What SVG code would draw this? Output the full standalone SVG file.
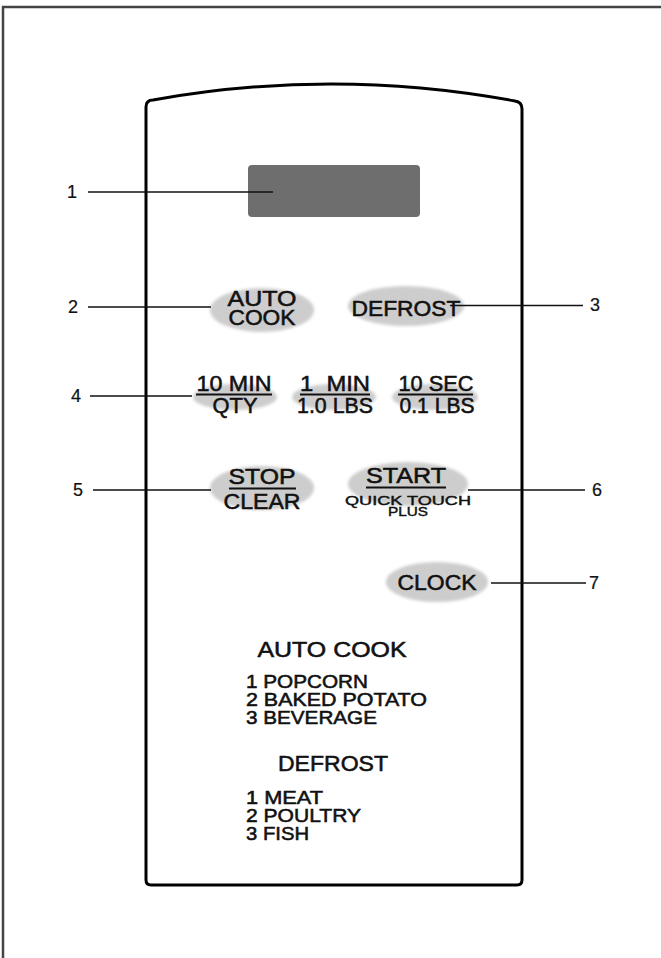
<svg xmlns="http://www.w3.org/2000/svg" width="661" height="958" viewBox="0 0 661 958">
<defs>
<filter id="soft" x="-20%" y="-40%" width="140%" height="180%"><feGaussianBlur stdDeviation="1.6"/></filter>
<style>
text{font-family:"Liberation Sans",Arial,sans-serif;fill:#111;stroke:#111;stroke-width:0.55px;}
.btn{font-size:22.5px;text-anchor:middle;}
.sm{font-size:13.5px;text-anchor:middle;stroke-width:0.45px;}
.num{font-size:18px;text-anchor:middle;stroke-width:0.2px;}
.hd{font-size:22px;text-anchor:middle;}
.li{font-size:19px;}
.key{fill:#cdcdcd;filter:url(#soft);}
.ul{stroke:#111;stroke-width:2.2;}
.lead{stroke:#111;stroke-width:1.6;fill:none;}
</style>
</defs>
<rect x="3" y="7" width="700" height="1000" fill="#fff" stroke="#444" stroke-width="2.5"/>
<g id="panel">
<path d="M146,880 L146,107 Q146,100 153,100 Q334,67.5 515,101 Q522,102 522,109 L522,880 Q522,885 517,885 L151,885 Q146,885 146,880 Z" fill="#fff" stroke="#000" stroke-width="3"/>
</g>
<g id="display"><rect x="248" y="165" width="172" height="52" rx="4" fill="#6e6e6e"/></g>
<g id="autocook"><ellipse class="key" cx="262" cy="310" rx="52" ry="22"/>
<text class="btn" x="262" y="306" textLength="69" lengthAdjust="spacingAndGlyphs">AUTO</text>
<text class="btn" x="262" y="324.5" textLength="67" lengthAdjust="spacingAndGlyphs">COOK</text></g>
<g id="defrost"><ellipse class="key" cx="406" cy="306" rx="58" ry="20"/>
<text class="btn" x="406" y="316" textLength="109" lengthAdjust="spacingAndGlyphs">DEFROST</text></g>
<g id="qty"><ellipse class="key" cx="235" cy="397" rx="42" ry="13"/>
<text class="btn" x="234" y="391" textLength="75" lengthAdjust="spacingAndGlyphs">10 MIN</text>
<line class="ul" x1="196" y1="394.5" x2="272" y2="394.5"/>
<text class="btn" x="235" y="413" textLength="45" lengthAdjust="spacingAndGlyphs">QTY</text></g>
<g id="onemin"><ellipse class="key" cx="334" cy="397" rx="42" ry="13"/>
<text class="btn" x="335" y="391" textLength="70" lengthAdjust="spacingAndGlyphs" xml:space="preserve">1  MIN</text>
<line class="ul" x1="300" y1="394.5" x2="370" y2="394.5"/>
<text class="btn" x="335" y="413" textLength="76" lengthAdjust="spacingAndGlyphs">1.0 LBS</text></g>
<g id="tensec"><ellipse class="key" cx="435" cy="397" rx="43" ry="13"/>
<text class="btn" x="436" y="391" textLength="75" lengthAdjust="spacingAndGlyphs">10 SEC</text>
<line class="ul" x1="398" y1="394.5" x2="473" y2="394.5"/>
<text class="btn" x="437" y="413" textLength="75" lengthAdjust="spacingAndGlyphs">0.1 LBS</text></g>
<g id="stop"><ellipse class="key" cx="262" cy="488" rx="52" ry="22"/>
<text class="btn" x="262" y="484" textLength="67" lengthAdjust="spacingAndGlyphs">STOP</text>
<line class="ul" x1="229" y1="488.5" x2="296" y2="488.5"/>
<text class="btn" x="262" y="509" textLength="77" lengthAdjust="spacingAndGlyphs">CLEAR</text></g>
<g id="start"><ellipse class="key" cx="408" cy="484" rx="60" ry="22"/>
<text class="btn" x="406" y="483" textLength="80" lengthAdjust="spacingAndGlyphs">START</text>
<line class="ul" x1="366" y1="487.5" x2="446" y2="487.5"/>
<text class="sm" x="408" y="505" textLength="126" lengthAdjust="spacingAndGlyphs">QUICK TOUCH</text>
<text class="sm" x="408" y="516" textLength="40" lengthAdjust="spacingAndGlyphs">PLUS</text></g>
<g id="clock"><ellipse class="key" cx="437" cy="582" rx="51" ry="20"/>
<text class="btn" x="437" y="590" textLength="79" lengthAdjust="spacingAndGlyphs">CLOCK</text></g>
<g id="legend">
<text class="hd" x="332" y="657" textLength="149" lengthAdjust="spacingAndGlyphs">AUTO COOK</text>
<text class="li" x="246" y="688" textLength="122" lengthAdjust="spacingAndGlyphs">1 POPCORN</text>
<text class="li" x="246" y="706" textLength="181" lengthAdjust="spacingAndGlyphs">2 BAKED POTATO</text>
<text class="li" x="246" y="724" textLength="131" lengthAdjust="spacingAndGlyphs">3 BEVERAGE</text>
<text class="hd" x="333" y="771" textLength="110" lengthAdjust="spacingAndGlyphs">DEFROST</text>
<text class="li" x="246" y="804" textLength="77" lengthAdjust="spacingAndGlyphs">1 MEAT</text>
<text class="li" x="246" y="822" textLength="115" lengthAdjust="spacingAndGlyphs">2 POULTRY</text>
<text class="li" x="246" y="840" textLength="63" lengthAdjust="spacingAndGlyphs">3 FISH</text>
</g>
<g id="connectors">
<line class="lead" x1="88" y1="192" x2="273" y2="192"/>
<line class="lead" x1="88" y1="307" x2="211" y2="307"/>
<line class="lead" x1="450" y1="305.5" x2="583" y2="305.5"/>
<line class="lead" x1="90" y1="396" x2="192" y2="396"/>
<line class="lead" x1="93" y1="490" x2="211" y2="490"/>
<line class="lead" x1="468" y1="490" x2="585" y2="490"/>
<line class="lead" x1="491" y1="583" x2="586" y2="583"/>
</g>
<g id="labels">
<text class="num" x="72" y="198">1</text>
<text class="num" x="73" y="313">2</text>
<text class="num" x="595" y="311">3</text>
<text class="num" x="76" y="402">4</text>
<text class="num" x="78" y="496">5</text>
<text class="num" x="597" y="496">6</text>
<text class="num" x="594" y="589">7</text>
</g>
</svg>
